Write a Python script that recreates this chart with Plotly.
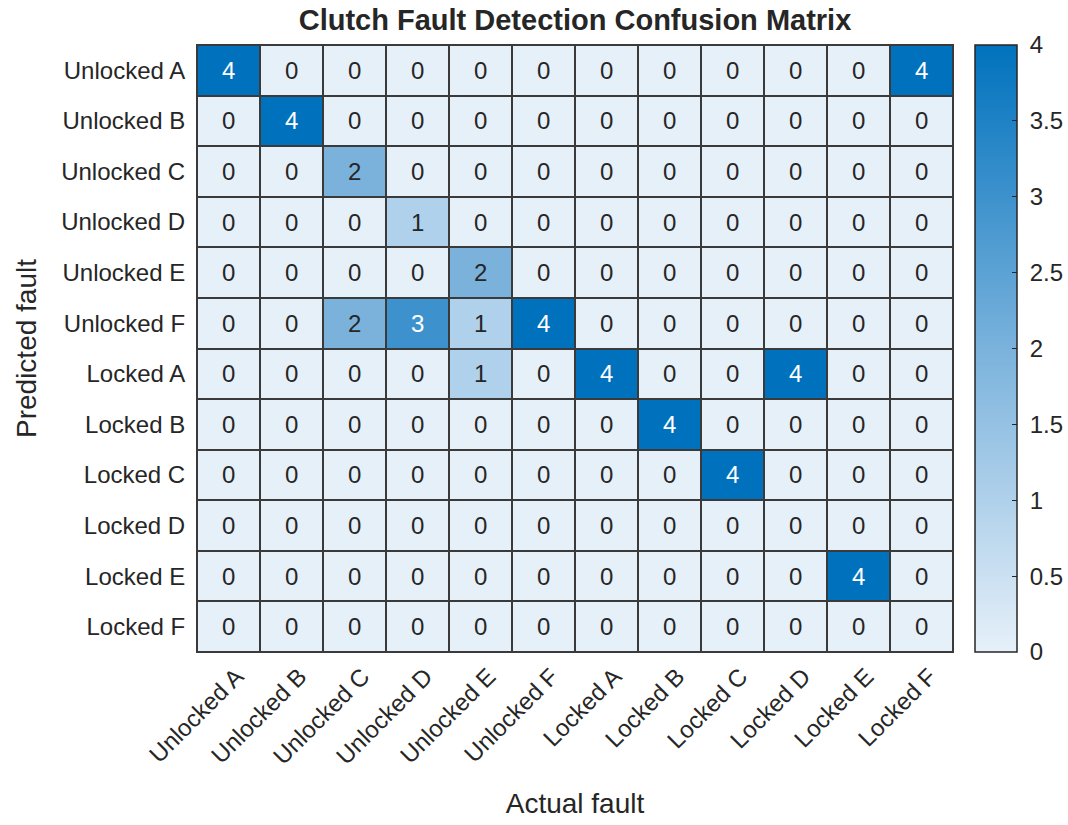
import plotly.graph_objects as go

classes = ["Unlocked A", "Unlocked B", "Unlocked C", "Unlocked D", "Unlocked E", "Unlocked F",
           "Locked A", "Locked B", "Locked C", "Locked D", "Locked E", "Locked F"]

# rows = predicted fault, columns = actual fault
counts = [
    [4, 0, 0, 0, 0, 0, 0, 0, 0, 0, 0, 4],
    [0, 4, 0, 0, 0, 0, 0, 0, 0, 0, 0, 0],
    [0, 0, 2, 0, 0, 0, 0, 0, 0, 0, 0, 0],
    [0, 0, 0, 1, 0, 0, 0, 0, 0, 0, 0, 0],
    [0, 0, 0, 0, 2, 0, 0, 0, 0, 0, 0, 0],
    [0, 0, 2, 3, 1, 4, 0, 0, 0, 0, 0, 0],
    [0, 0, 0, 0, 1, 0, 4, 0, 0, 4, 0, 0],
    [0, 0, 0, 0, 0, 0, 0, 4, 0, 0, 0, 0],
    [0, 0, 0, 0, 0, 0, 0, 0, 4, 0, 0, 0],
    [0, 0, 0, 0, 0, 0, 0, 0, 0, 0, 0, 0],
    [0, 0, 0, 0, 0, 0, 0, 0, 0, 0, 4, 0],
    [0, 0, 0, 0, 0, 0, 0, 0, 0, 0, 0, 0],
]

cbar_ticks = [0, 0.5, 1, 1.5, 2, 2.5, 3, 3.5, 4]

FONT = "Liberation Sans, Arial, Helvetica, sans-serif"
TXT = "#262626"
GRID = "#3A3A3A"

fig = go.Figure(go.Heatmap(
    z=counts, x=classes, y=classes,
    zmin=0, zmax=4,
    colorscale=[[0, "#E6F0F9"], [0.5, "#7AB2DC"], [1, "#0072BD"]],
    xgap=2, ygap=2,
    colorbar=dict(
        x=1.029, xanchor="left", y=0.5, yanchor="middle",
        len=1.0, lenmode="fraction", thickness=42, ypad=0, xpad=0,
        outlinecolor=TXT, outlinewidth=1.5,
        tickvals=cbar_ticks,
        ticktext=["\u00a0" + f"{t:g}" for t in cbar_ticks],
        ticks="inside", ticklen=5, tickcolor=TXT,
        tickfont=dict(family=FONT, size=24, color=TXT),
    ),
))

# cell value labels: light text on dark cells
for i, row in enumerate(counts):
    for j, v in enumerate(row):
        fig.add_annotation(
            x=classes[j], y=classes[i], text=str(v), showarrow=False,
            font=dict(family=FONT, size=24, color="#FFFFFF" if v >= 3 else TXT),
        )

fig.update_xaxes(
    tickangle=-45, tickfont=dict(family=FONT, size=24, color=TXT),
    title=dict(text="Actual fault", font=dict(family=FONT, size=28, color=TXT), standoff=24),
    showline=True, linecolor=GRID, linewidth=1, mirror=True, ticks="",
    showgrid=False, zeroline=False, automargin=False, ticklabelshift=8,
)
fig.update_yaxes(
    autorange="reversed", tickfont=dict(family=FONT, size=24, color=TXT),
    title=dict(text="Predicted fault", font=dict(family=FONT, size=28, color=TXT), standoff=16),
    showline=True, linecolor=GRID, linewidth=1, mirror=True, ticks="",
    showgrid=False, zeroline=False, automargin=False, ticklabelstandoff=6,
)

fig.update_layout(
    width=1068, height=825,
    margin=dict(l=197, r=115, t=45, b=173, autoexpand=False),
    paper_bgcolor="white", plot_bgcolor=GRID,
    title=dict(text="<b>Clutch Fault Detection Confusion Matrix</b>",
               font=dict(family=FONT, size=29, color=TXT),
               x=(197 + 953) / 2 / 1068, xanchor="center", y=1 - 20 / 825, yanchor="middle"),
)

fig.write_html("out.html")
